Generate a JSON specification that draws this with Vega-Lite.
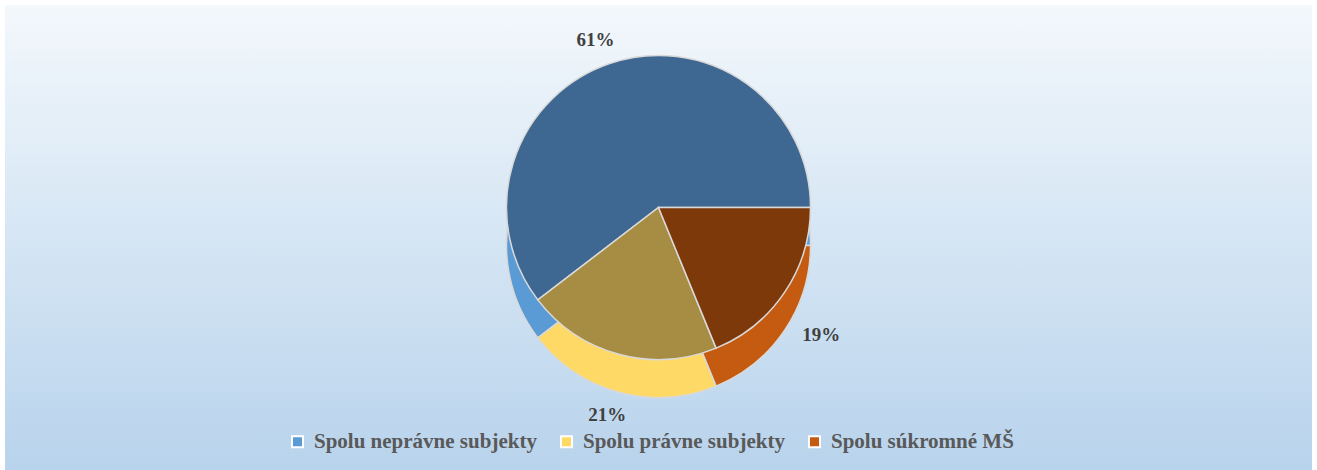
{
  "$schema": "https://vega.github.io/schema/vega-lite/v6.json",
  "width": 1317,
  "height": 470,
  "padding": {"left": 5, "top": 5, "right": 5, "bottom": 0},
  "autosize": {"type": "fit", "contains": "padding"},
  "background": "white",
  "data": {
    "values": [
      {"kategoria": "Spolu neprávne subjekty", "podiel": 0.61},
      {"kategoria": "Spolu právne subjekty", "podiel": 0.21},
      {"kategoria": "Spolu súkromné MŠ", "podiel": 0.19}
    ]
  },
  "layer": [
    {
      "data": {"values": [{"pozadie": 1}]},
      "mark": {
        "type": "rect",
        "fill": {
          "gradient": "linear",
          "x1": 0, "y1": 0, "x2": 0, "y2": 1,
          "stops": [
            {"offset": 0, "color": "#f3f8fc"},
            {"offset": 1, "color": "#b8d3ec"}
          ]
        }
      },
      "encoding": {}
    },
    {
      "mark": {"type": "arc", "radius": 152, "yOffset": 8, "stroke": "#d9d9d9", "strokeWidth": 1.5},
      "encoding": {
        "theta": {"field": "podiel", "type": "quantitative", "stack": true, "scale": {"range": [1.5708, 7.854]}},
        "order": {"field": "kategoria", "sort": "descending"},
        "color": {
          "field": "kategoria",
          "type": "nominal",
          "scale": {"range": ["#5b9bd5", "#ffd966", "#c55a11"]},
          "legend": {
            "title": null,
            "orient": "none",
            "direction": "horizontal",
            "legendX": 282,
            "legendY": 426,
            "symbolType": "square",
            "symbolSize": 121,
            "symbolStrokeColor": "white",
            "symbolStrokeWidth": 2,
            "symbolOpacity": 1,
            "labelFont": "Liberation Serif",
            "labelFontSize": 21,
            "labelFontWeight": "bold",
            "labelColor": "#595959",
            "labelLimit": 0,
            "columnPadding": 19,
            "labelOffset": 6
          }
        }
      }
    },
    {
      "mark": {"type": "arc", "radius": 152, "yOffset": -30, "stroke": "#d9d9d9", "strokeWidth": 1.5},
      "encoding": {
        "theta": {"field": "podiel", "type": "quantitative", "stack": true},
        "order": {"field": "kategoria", "sort": "descending"},
        "fill": {
          "field": "kategoria",
          "type": "nominal",
          "scale": {"range": ["#3e6791", "#a78d43", "#7e390b"]},
          "legend": null
        }
      }
    },
    {
      "mark": {"type": "text", "radius": 196, "yOffset": -12, "font": "Liberation Serif", "fontSize": 19, "fontWeight": "bold", "color": "#404040"},
      "encoding": {
        "theta": {"field": "podiel", "type": "quantitative", "stack": true},
        "order": {"field": "kategoria", "sort": "descending"},
        "text": {"field": "podiel", "type": "quantitative", "format": ".0%"}
      }
    }
  ],
  "config": {"view": {"stroke": null}}
}
